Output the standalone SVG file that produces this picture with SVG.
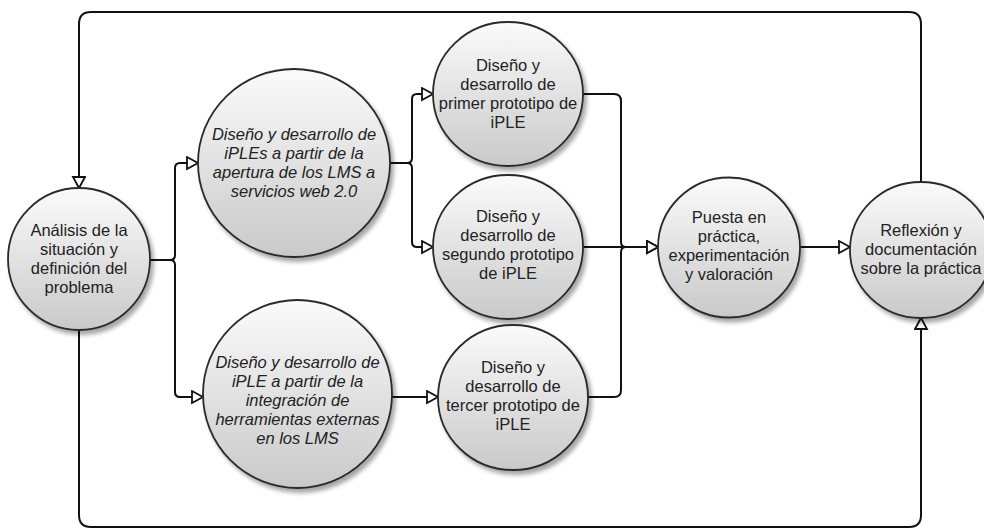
<svg xmlns="http://www.w3.org/2000/svg" width="984" height="528" viewBox="0 0 984 528">
  <style>
    .edge { fill: none; stroke: #111; stroke-width: 2; stroke-linejoin: round; }
    .node ellipse { fill: url(#nodeFill); stroke: #2b2b2b; stroke-width: 1.8; filter: url(#shadow); }
    .node text { font-family: "Liberation Sans", Arial, Helvetica, sans-serif; font-size: 16.5px; fill: #222; text-anchor: middle; }
    .node text.it { font-style: italic; }
  </style>
  <defs>
    <linearGradient id="nodeFill" x1="0" y1="0" x2="0" y2="1">
      <stop offset="0" stop-color="#fbfbfb"/>
      <stop offset="1" stop-color="#c9c9c9"/>
    </linearGradient>
    <filter id="shadow" x="-20%" y="-20%" width="140%" height="140%">
      <feDropShadow dx="3" dy="4" stdDeviation="2" flood-color="#000" flood-opacity="0.35"/>
    </filter>
    <marker id="arrow" markerUnits="userSpaceOnUse" markerWidth="16" markerHeight="16" refX="12" refY="7" orient="auto">
      <path d="M1,1 L12,7 L1,13 z" fill="#fff" stroke="#111" stroke-width="1.8" stroke-linejoin="miter"/>
    </marker>
  </defs>

  <!-- connectors -->
  <g id="connectors">
    <path class="edge" d="M150,260 H170 Q175,260 175,255 V168 Q175,163 180,163 H198" marker-end="url(#arrow)"/>
    <path class="edge" d="M150,260 H170 Q175,260 175,265 V392 Q175,397 180,397 H203" marker-end="url(#arrow)"/>
    <path class="edge" d="M390,163 H407 Q412,163 412,158 V99 Q412,94 417,94 H433" marker-end="url(#arrow)"/>
    <path class="edge" d="M390,163 H407 Q412,163 412,168 V242 Q412,247 417,247 H433" marker-end="url(#arrow)"/>
    <path class="edge" d="M392,397 H438" marker-end="url(#arrow)"/>
    <path class="edge" d="M583,94 H614 Q621,94 621,101 V242 Q621,247 626,247 H658" marker-end="url(#arrow)"/>
    <path class="edge" d="M583,247 H658" marker-end="url(#arrow)"/>
    <path class="edge" d="M588,397 H614 Q621,397 621,390 V252 Q621,247 626,247 H658" marker-end="url(#arrow)"/>
    <path class="edge" d="M800,247 H850" marker-end="url(#arrow)"/>
    <path class="edge" d="M921,182 V24 Q921,12 909,12 H91 Q79,12 79,24 V188" marker-end="url(#arrow)"/>
    <path class="edge" d="M79,330 V515 Q79,527 91,527 H909 Q921,527 921,515 V318" marker-end="url(#arrow)"/>
  </g>

  <g id="analisis" class="node">
    <ellipse cx="79" cy="259" rx="71" ry="71"/>
    <text x="79" y="236">Análisis de la</text>
    <text x="79" y="255">situación y</text>
    <text x="79" y="274">definición del</text>
    <text x="79" y="293">problema</text>
  </g>

  <g id="iples-web20" class="node">
    <ellipse cx="294" cy="163" rx="96" ry="94"/>
    <text class="it" x="294" y="140">Diseño y desarrollo de</text>
    <text class="it" x="294" y="159">iPLEs a partir de la</text>
    <text class="it" x="294" y="178">apertura de los LMS a</text>
    <text class="it" x="294" y="197">servicios web 2.0</text>
  </g>

  <g id="iple-integracion" class="node">
    <ellipse cx="297.5" cy="394" rx="94.5" ry="94"/>
    <text class="it" x="297.5" y="368">Diseño y desarrollo de</text>
    <text class="it" x="297.5" y="387">iPLE a partir de la</text>
    <text class="it" x="297.5" y="406">integración de</text>
    <text class="it" x="297.5" y="425">herramientas externas</text>
    <text class="it" x="297.5" y="444">en los LMS</text>
  </g>

  <g id="primer-prototipo" class="node">
    <ellipse cx="508" cy="94" rx="75" ry="72"/>
    <text x="508" y="71">Diseño y</text>
    <text x="508" y="90">desarrollo de</text>
    <text x="508" y="109">primer prototipo de</text>
    <text x="508" y="128">iPLE</text>
  </g>

  <g id="segundo-prototipo" class="node">
    <ellipse cx="508" cy="247" rx="75" ry="72"/>
    <text x="508" y="222">Diseño y</text>
    <text x="508" y="241">desarrollo de</text>
    <text x="508" y="260">segundo prototipo</text>
    <text x="508" y="279">de iPLE</text>
  </g>

  <g id="tercer-prototipo" class="node">
    <ellipse cx="513" cy="397.5" rx="75" ry="72.5"/>
    <text x="513" y="373">Diseño y</text>
    <text x="513" y="392">desarrollo de</text>
    <text x="513" y="411">tercer prototipo de</text>
    <text x="513" y="430">iPLE</text>
  </g>

  <g id="puesta-en-practica" class="node">
    <ellipse cx="729" cy="247.5" rx="71" ry="70"/>
    <text x="729" y="223">Puesta en</text>
    <text x="729" y="242">práctica,</text>
    <text x="729" y="261">experimentación</text>
    <text x="729" y="280">y valoración</text>
  </g>

  <g id="reflexion" class="node">
    <ellipse cx="921" cy="250" rx="71" ry="68"/>
    <text x="921" y="236">Reflexión y</text>
    <text x="921" y="255">documentación</text>
    <text x="921" y="274">sobre la práctica</text>
  </g>
</svg>
